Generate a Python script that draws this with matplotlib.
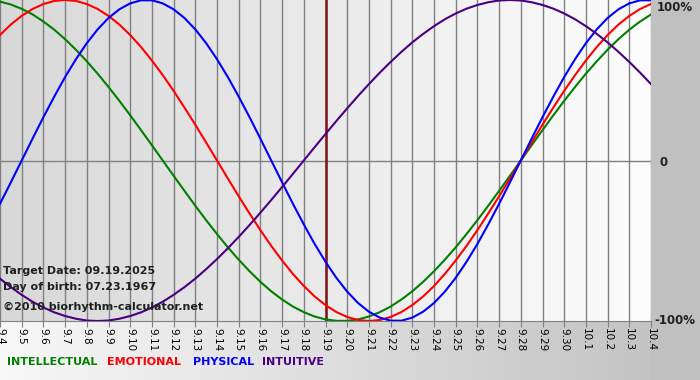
"""
Biorhythm chart, 09.04 - 10.04 (target 09.19.2025, born 07.23.1967)
"""

import matplotlib
matplotlib.use("Agg")
import matplotlib.pyplot as plt
import numpy as np

# 날짜 라벨 (하루 간격)
dates = ["9.4", "9.5", "9.6", "9.7", "9.8", "9.9", "9.10", "9.11", "9.12", "9.13",
         "9.14", "9.15", "9.16", "9.17", "9.18", "9.19", "9.20", "9.21", "9.22", "9.23",
         "9.24", "9.25", "9.26", "9.27", "9.28", "9.29", "9.30", "10.1", "10.2", "10.3",
         "10.4"]
target_date = "9.19"

# 그림에서 읽은 값 (-1 ~ 1), 반나절 간격
samples_per_day = 2
intellectual = [0.990, 0.972, 0.945, 0.910, 0.866, 0.815, 0.756, 0.690, 0.618, 0.541,
                0.458, 0.372, 0.282, 0.189, 0.095, 0.000, -0.095, -0.189, -0.282, -0.372,
                -0.458, -0.541, -0.618, -0.690, -0.756, -0.815, -0.866, -0.910, -0.945, -0.972,
                -0.990, -0.999, -0.999, -0.990, -0.972, -0.945, -0.910, -0.866, -0.815, -0.756,
                -0.690, -0.618, -0.541, -0.458, -0.372, -0.282, -0.189, -0.095, 0.000, 0.095,
                0.189, 0.282, 0.372, 0.458, 0.541, 0.618, 0.690, 0.756, 0.815, 0.866,
                0.910]
emotional = [0.782, 0.847, 0.901, 0.944, 0.975, 0.994, 1.000, 0.994, 0.975, 0.944,
             0.901, 0.847, 0.782, 0.707, 0.623, 0.532, 0.434, 0.330, 0.223, 0.112,
             0.000, -0.112, -0.223, -0.330, -0.434, -0.532, -0.623, -0.707, -0.782, -0.847,
             -0.901, -0.944, -0.975, -0.994, -1.000, -0.994, -0.975, -0.944, -0.901, -0.847,
             -0.782, -0.707, -0.623, -0.532, -0.434, -0.330, -0.223, -0.112, 0.000, 0.112,
             0.223, 0.330, 0.434, 0.532, 0.623, 0.707, 0.782, 0.847, 0.901, 0.944,
             0.975]
physical = [-0.270, -0.136, 0.000, 0.136, 0.270, 0.398, 0.520, 0.631, 0.731, 0.817,
            0.888, 0.942, 0.979, 0.998, 0.998, 0.979, 0.942, 0.888, 0.817, 0.731,
            0.631, 0.520, 0.398, 0.270, 0.136, 0.000, -0.136, -0.270, -0.398, -0.520,
            -0.631, -0.731, -0.817, -0.888, -0.942, -0.979, -0.998, -0.998, -0.979, -0.942,
            -0.888, -0.817, -0.731, -0.631, -0.520, -0.398, -0.270, -0.136, 0.000, 0.136,
            0.270, 0.398, 0.520, 0.631, 0.731, 0.817, 0.888, 0.942, 0.979, 0.998,
            0.998]
intuitive = [-0.736, -0.789, -0.837, -0.880, -0.916, -0.946, -0.969, -0.986, -0.997, -1.000,
             -0.997, -0.986, -0.969, -0.946, -0.916, -0.880, -0.837, -0.789, -0.736, -0.677,
             -0.614, -0.547, -0.476, -0.402, -0.325, -0.246, -0.165, -0.083, 0.000, 0.083,
             0.165, 0.246, 0.325, 0.402, 0.476, 0.547, 0.614, 0.677, 0.736, 0.789,
             0.837, 0.880, 0.916, 0.946, 0.969, 0.986, 0.997, 1.000, 0.997, 0.986,
             0.969, 0.946, 0.916, 0.880, 0.837, 0.789, 0.736, 0.677, 0.614, 0.547,
             0.476]

series_names = ["INTELLECTUAL", "EMOTIONAL", "PHYSICAL", "INTUITIVE"]
series_colors = ["#008000", "#ff0000", "#0000ff", "#4b0082"]

W, H = 700, 380
fig = plt.figure(figsize=(W / 100, H / 100), dpi=100)

# 배경 (가로 그라데이션: 흰색 -> 회색)
bg = fig.add_axes([0, 0, 1, 1], zorder=0)
grad = np.linspace(0, 1, 256).reshape(1, -1)
bg.imshow(grad, cmap=matplotlib.colors.LinearSegmentedColormap.from_list(
    "bgc", ["#f8f8f8", "#c0c0c0"]), extent=[0, 1, 0, 1], aspect="auto")
bg.fill_between([651 / W, 1], 0, 1, color="#c0c0c0")
bg.set_xlim(0, 1)
bg.set_ylim(0, 1)
bg.axis("off")

# 메인 차트
ax = fig.add_axes([0, 59 / H, 651 / W, 321 / H], zorder=1)
x = np.arange(len(dates))
ax.set_xlim(0, len(dates) - 1)
ax.set_ylim(-1, 1)
ax.imshow(grad, cmap=matplotlib.colors.LinearSegmentedColormap.from_list(
    "plotc", ["#d8d8d8", "#fdfdfd"]), extent=[0, len(dates) - 1, -1, 1],
    aspect="auto", zorder=0)

for xi in x:
    ax.axvline(xi, color="#808080", linewidth=1.0, zorder=1)
ax.axhline(0, color="#808080", linewidth=1.0, zorder=1)

ax.axvline(dates.index(target_date), color="#801010", linewidth=1.8, zorder=2)

for vals, color in zip([intellectual, emotional, physical, intuitive], series_colors):
    xs = np.arange(len(vals)) / samples_per_day
    ax.plot(xs, vals, color=color, linewidth=1.5, zorder=3)

for s in ["top", "left", "right"]:
    ax.spines[s].set_visible(False)
ax.spines["bottom"].set_color("#808080")
ax.set_yticks([])
ax.set_xticks(x)
ax.set_xticklabels(dates, rotation=-90, fontsize=7.5, color="black")
ax.tick_params(axis="x", length=4, color="#808080", pad=1)

# 오른쪽 퍼센트 라벨
ax.text(1.008, 0.978, "100%", transform=ax.transAxes, fontsize=8.5, fontweight="bold",
        va="center", ha="left", color="#202020")
ax.text(1.013, 0.495, "0", transform=ax.transAxes, fontsize=8.5, fontweight="bold",
        va="center", ha="left", color="#202020")
ax.text(1.005, 0.0, "-100%", transform=ax.transAxes, fontsize=8.5, fontweight="bold",
        va="center", ha="left", color="#202020")

# 좌하단 정보
info = ["Target Date: 09.19.2025", "Day of birth: 07.23.1967"]
ax.text(3 / 651, 1 - 271 / 321, info[0], transform=ax.transAxes, fontsize=8,
        fontweight="bold", va="center", color="#202020", zorder=4)
ax.text(3 / 651, 1 - 287 / 321, info[1], transform=ax.transAxes, fontsize=8,
        fontweight="bold", va="center", color="#202020", zorder=4)
ax.text(3 / 651, 1 - 307 / 321, "©2010 biorhythm-calculator.net", transform=ax.transAxes,
        fontsize=8, fontweight="bold", va="center", color="#202020", zorder=4)

# 범례 (색 글자)
legend_x = [7, 107, 193, 262]
for name, color, lx in zip(series_names, series_colors, legend_x):
    fig.text(lx / W, 1 - 362 / H, name, fontsize=8, fontweight="bold",
             color=color, va="center", ha="left")

fig.savefig("out.png", dpi=100)
